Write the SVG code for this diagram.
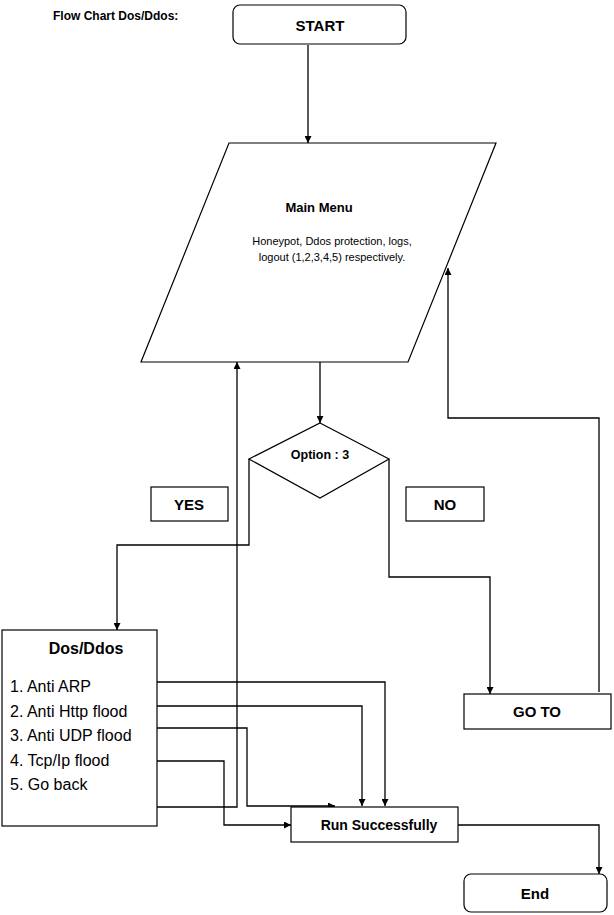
<svg xmlns="http://www.w3.org/2000/svg" width="614" height="915" viewBox="0 0 614 915">
<style>
.s{fill:#fff;stroke:#000;stroke-width:1.2}
.c{fill:none;stroke:#000;stroke-width:1.3}
text{font-family:"Liberation Sans",Arial,sans-serif;fill:#000}
.b{font-weight:bold;text-anchor:middle}
</style>
<defs>
<marker id="a" viewBox="0 0 10 10" refX="10" refY="5" markerWidth="7" markerHeight="7" markerUnits="userSpaceOnUse" orient="auto">
<path d="M0,0L10,5L0,10z" fill="#000"/>
</marker>
</defs>
<rect width="614" height="915" fill="#fff"/>
<text x="53" y="20" font-size="12" font-weight="bold">Flow Chart Dos/Ddos:</text>
<g id="connectors">
<path class="c" d="M308,45V143" marker-end="url(#a)"/>
<path class="c" d="M320,362V423" marker-end="url(#a)"/>
<path class="c" d="M249,459V545H117V630" marker-end="url(#a)"/>
<path class="c" d="M389,459V577H490V694" marker-end="url(#a)"/>
<path class="c" d="M599,692V418H448V268" marker-end="url(#a)"/>
<path class="c" d="M157,807H237V362" marker-end="url(#a)"/>
<path class="c" d="M157,682H385V806" marker-end="url(#a)"/>
<path class="c" d="M157,706H362V806" marker-end="url(#a)"/>
<path class="c" d="M157,728H247V806H335" marker-end="url(#a)"/>
<path class="c" d="M157,761H224V825H291" marker-end="url(#a)"/>
<path class="c" d="M458,825H599V874" marker-end="url(#a)"/>
</g>
<g id="start">
<rect class="s" x="233" y="5" width="173" height="39" rx="7"/>
<text class="b" x="320" y="31" font-size="15">START</text>
</g>
<g id="main-menu">
<path class="s" d="M229,143H496L408,362H141Z" fill="none"/>
<text class="b" x="319" y="212" font-size="13">Main Menu</text>
<text x="332" y="245" font-size="11" text-anchor="middle">Honeypot, Ddos protection, logs,</text>
<text x="332" y="261" font-size="11" text-anchor="middle">logout (1,2,3,4,5) respectively.</text>
</g>
<g id="option">
<path class="s" d="M320,423L389,459L320,498L249,459Z"/>
<text class="b" x="320" y="459" font-size="12.5">Option : 3</text>
</g>
<g id="yes">
<rect class="s" x="151" y="487" width="77" height="34"/>
<text class="b" x="189" y="510" font-size="15">YES</text>
</g>
<g id="no">
<rect class="s" x="406" y="487" width="78" height="34"/>
<text class="b" x="445" y="510" font-size="15">NO</text>
</g>
<g id="dos">
<rect class="s" x="2" y="630" width="155" height="196"/>
<text class="b" x="86" y="654" font-size="16">Dos/Ddos</text>
<text x="10" y="692" font-size="16">1. Anti ARP</text>
<text x="10" y="717" font-size="16">2. Anti Http flood</text>
<text x="10" y="741" font-size="16">3. Anti UDP flood</text>
<text x="10" y="766" font-size="16">4. Tcp/Ip flood</text>
<text x="10" y="790" font-size="16">5. Go back</text>
</g>
<g id="goto">
<rect class="s" x="464" y="694" width="147" height="35"/>
<text class="b" x="537" y="717" font-size="15">GO TO</text>
</g>
<g id="run">
<rect class="s" x="291" y="807" width="167" height="35" fill="none"/>
<text class="b" x="379" y="830" font-size="14">Run Successfully</text>
</g>
<g id="end">
<rect class="s" x="464" y="874" width="143" height="38" rx="7"/>
<text class="b" x="535" y="899" font-size="15">End</text>
</g>
</svg>
